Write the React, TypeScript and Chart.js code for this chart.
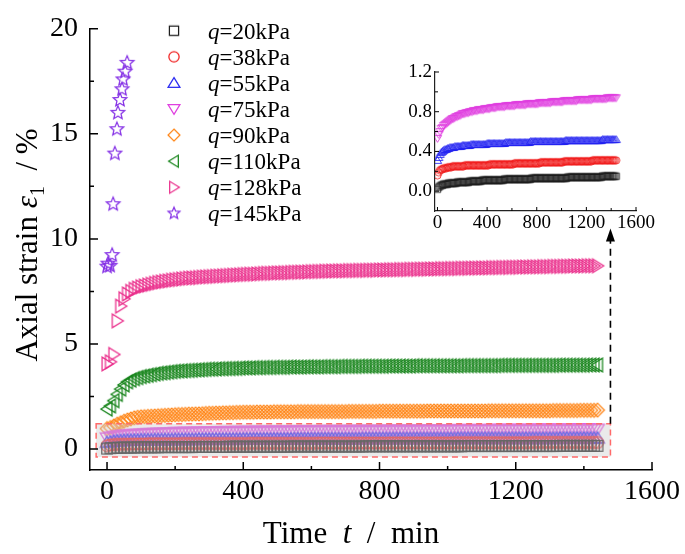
import { useEffect, useRef } from 'react';
import { Chart, registerables } from 'chart.js';

Chart.register(...registerables);

const FONT = '"Liberation Serif", "Times New Roman", serif';

// ---------------- data ----------------
const TIME = [
  0, 10, 20, 30, 40, 50, 60, 70, 80, 90,
  100, 110, 120, 130, 140, 150, 160, 170, 180, 190,
  200, 210, 220, 230, 240, 250, 260, 270, 280, 290,
  300, 310, 320, 330, 340, 350, 360, 370, 380, 390,
  400, 410, 420, 430, 440, 450, 460, 470, 480, 490,
  500, 510, 520, 530, 540, 550, 560, 570, 580, 590,
  600, 610, 620, 630, 640, 650, 660, 670, 680, 690,
  700, 710, 720, 730, 740, 750, 760, 770, 780, 790,
  800, 810, 820, 830, 840, 850, 860, 870, 880, 890,
  900, 910, 920, 930, 940, 950, 960, 970, 980, 990,
  1000, 1010, 1020, 1030, 1040, 1050, 1060, 1070, 1080, 1090,
  1100, 1110, 1120, 1130, 1140, 1150, 1160, 1170, 1180, 1190,
  1200, 1210, 1220, 1230, 1240, 1250, 1260, 1270, 1280, 1290,
  1300, 1310, 1320, 1330, 1340, 1350, 1360, 1370, 1380, 1390,
  1400, 1410, 1420, 1430, 1440,
];

const STRAIN_Q20 = [
  0.02, 0.04, 0.05, 0.06, 0.06, 0.07, 0.07, 0.07, 0.07, 0.08,
  0.08, 0.08, 0.08, 0.08, 0.08, 0.08, 0.09, 0.09, 0.09, 0.09,
  0.09, 0.09, 0.09, 0.09, 0.09, 0.09, 0.10, 0.10, 0.10, 0.10,
  0.10, 0.10, 0.10, 0.10, 0.10, 0.10, 0.11, 0.11, 0.11, 0.11,
  0.11, 0.11, 0.11, 0.11, 0.11, 0.11, 0.11, 0.11, 0.11, 0.11,
  0.11, 0.11, 0.11, 0.11, 0.12, 0.12, 0.12, 0.12, 0.12, 0.12,
  0.12, 0.12, 0.12, 0.12, 0.12, 0.12, 0.12, 0.12, 0.12, 0.12,
  0.12, 0.12, 0.12, 0.12, 0.12, 0.12, 0.13, 0.13, 0.13, 0.13,
  0.13, 0.13, 0.13, 0.13, 0.13, 0.13, 0.13, 0.13, 0.13, 0.13,
  0.13, 0.13, 0.13, 0.13, 0.13, 0.13, 0.13, 0.13, 0.13, 0.13,
  0.13, 0.13, 0.13, 0.13, 0.13, 0.14, 0.14, 0.14, 0.14, 0.14,
  0.14, 0.14, 0.14, 0.14, 0.14, 0.14, 0.14, 0.14, 0.14, 0.14,
  0.14, 0.14, 0.14, 0.14, 0.14, 0.14, 0.14, 0.14, 0.14, 0.14,
  0.14, 0.14, 0.14, 0.15, 0.15, 0.15, 0.15, 0.15, 0.15, 0.15,
  0.15, 0.15, 0.15, 0.15, 0.15,
];

const STRAIN_Q38 = [
  0.16, 0.19, 0.21, 0.22, 0.22, 0.23, 0.23, 0.23, 0.24, 0.24,
  0.24, 0.24, 0.25, 0.25, 0.25, 0.25, 0.25, 0.25, 0.25, 0.25,
  0.25, 0.25, 0.26, 0.26, 0.26, 0.26, 0.26, 0.26, 0.26, 0.26,
  0.26, 0.26, 0.26, 0.26, 0.26, 0.26, 0.26, 0.26, 0.26, 0.26,
  0.26, 0.26, 0.27, 0.27, 0.27, 0.27, 0.27, 0.27, 0.27, 0.27,
  0.27, 0.27, 0.27, 0.27, 0.27, 0.27, 0.27, 0.27, 0.27, 0.27,
  0.27, 0.27, 0.28, 0.28, 0.28, 0.28, 0.28, 0.28, 0.28, 0.28,
  0.28, 0.28, 0.28, 0.28, 0.28, 0.28, 0.28, 0.28, 0.28, 0.28,
  0.28, 0.28, 0.28, 0.29, 0.29, 0.29, 0.29, 0.29, 0.29, 0.29,
  0.29, 0.29, 0.29, 0.29, 0.29, 0.29, 0.29, 0.29, 0.29, 0.29,
  0.29, 0.29, 0.30, 0.30, 0.30, 0.30, 0.30, 0.30, 0.30, 0.30,
  0.30, 0.30, 0.30, 0.30, 0.30, 0.30, 0.30, 0.30, 0.30, 0.30,
  0.30, 0.30, 0.30, 0.30, 0.30, 0.31, 0.31, 0.31, 0.31, 0.31,
  0.31, 0.31, 0.31, 0.31, 0.31, 0.31, 0.31, 0.31, 0.31, 0.31,
  0.31, 0.31, 0.31, 0.31, 0.31,
];

const STRAIN_Q55 = [
  0.31, 0.34, 0.37, 0.39, 0.40, 0.41, 0.42, 0.42, 0.43, 0.43,
  0.44, 0.44, 0.44, 0.44, 0.45, 0.45, 0.45, 0.45, 0.45, 0.45,
  0.46, 0.46, 0.46, 0.46, 0.46, 0.46, 0.46, 0.47, 0.47, 0.47,
  0.47, 0.47, 0.47, 0.47, 0.47, 0.47, 0.47, 0.47, 0.47, 0.47,
  0.48, 0.48, 0.48, 0.48, 0.48, 0.48, 0.48, 0.48, 0.48, 0.48,
  0.48, 0.48, 0.48, 0.48, 0.48, 0.49, 0.49, 0.49, 0.49, 0.49,
  0.49, 0.49, 0.49, 0.49, 0.49, 0.49, 0.49, 0.49, 0.49, 0.49,
  0.49, 0.49, 0.49, 0.49, 0.49, 0.50, 0.50, 0.50, 0.50, 0.50,
  0.50, 0.50, 0.50, 0.50, 0.50, 0.50, 0.50, 0.50, 0.50, 0.50,
  0.50, 0.50, 0.50, 0.50, 0.50, 0.50, 0.50, 0.50, 0.50, 0.50,
  0.50, 0.50, 0.50, 0.51, 0.51, 0.51, 0.51, 0.51, 0.51, 0.51,
  0.51, 0.51, 0.51, 0.51, 0.51, 0.51, 0.51, 0.51, 0.51, 0.51,
  0.51, 0.51, 0.51, 0.51, 0.51, 0.51, 0.51, 0.51, 0.51, 0.51,
  0.51, 0.51, 0.51, 0.52, 0.52, 0.52, 0.52, 0.52, 0.52, 0.52,
  0.52, 0.52, 0.52, 0.52, 0.52,
];

const STRAIN_Q75 = [
  0.53, 0.57, 0.60, 0.63, 0.64, 0.66, 0.67, 0.68, 0.69, 0.70,
  0.71, 0.72, 0.73, 0.73, 0.74, 0.75, 0.75, 0.76, 0.76, 0.77,
  0.78, 0.78, 0.78, 0.79, 0.79, 0.79, 0.80, 0.80, 0.80, 0.81,
  0.81, 0.81, 0.81, 0.82, 0.82, 0.82, 0.82, 0.82, 0.83, 0.83,
  0.83, 0.83, 0.83, 0.84, 0.84, 0.84, 0.84, 0.84, 0.85, 0.85,
  0.85, 0.85, 0.85, 0.85, 0.85, 0.86, 0.86, 0.86, 0.86, 0.86,
  0.86, 0.86, 0.86, 0.87, 0.87, 0.87, 0.87, 0.87, 0.87, 0.87,
  0.87, 0.87, 0.88, 0.88, 0.88, 0.88, 0.88, 0.88, 0.88, 0.88,
  0.88, 0.88, 0.89, 0.89, 0.89, 0.89, 0.89, 0.89, 0.89, 0.89,
  0.89, 0.89, 0.90, 0.90, 0.90, 0.90, 0.90, 0.90, 0.90, 0.90,
  0.90, 0.90, 0.91, 0.91, 0.91, 0.91, 0.91, 0.91, 0.91, 0.91,
  0.91, 0.91, 0.91, 0.92, 0.92, 0.92, 0.92, 0.92, 0.92, 0.92,
  0.92, 0.92, 0.92, 0.92, 0.92, 0.93, 0.93, 0.93, 0.93, 0.93,
  0.93, 0.93, 0.93, 0.93, 0.93, 0.93, 0.93, 0.94, 0.94, 0.94,
  0.94, 0.94, 0.94, 0.94, 0.94,
];

const STRAIN_Q90 = [
  0.97, 1.02, 1.10, 1.18, 1.25, 1.32, 1.38, 1.43, 1.48, 1.51,
  1.53, 1.54, 1.55, 1.56, 1.57, 1.58, 1.59, 1.60, 1.61, 1.62,
  1.63, 1.64, 1.64, 1.65, 1.66, 1.66, 1.67, 1.67, 1.68, 1.69,
  1.70, 1.70, 1.71, 1.71, 1.72, 1.72, 1.73, 1.73, 1.74, 1.74,
  1.75, 1.75, 1.75, 1.75, 1.76, 1.76, 1.76, 1.76, 1.76, 1.77,
  1.77, 1.77, 1.77, 1.77, 1.77, 1.77, 1.78, 1.78, 1.78, 1.78,
  1.78, 1.78, 1.78, 1.78, 1.78, 1.78, 1.78, 1.78, 1.78, 1.78,
  1.78, 1.79, 1.79, 1.79, 1.79, 1.79, 1.79, 1.79, 1.79, 1.79,
  1.80, 1.80, 1.80, 1.80, 1.80, 1.80, 1.80, 1.80, 1.80, 1.80,
  1.80, 1.80, 1.80, 1.80, 1.81, 1.81, 1.81, 1.81, 1.81, 1.81,
  1.81, 1.81, 1.81, 1.81, 1.81, 1.81, 1.81, 1.81, 1.81, 1.81,
  1.81, 1.81, 1.82, 1.82, 1.82, 1.82, 1.82, 1.82, 1.82, 1.82,
  1.82, 1.82, 1.82, 1.82, 1.82, 1.82, 1.82, 1.82, 1.82, 1.82,
  1.82, 1.83, 1.83, 1.83, 1.83, 1.83, 1.83, 1.83, 1.83, 1.84,
  1.84, 1.84, 1.84, 1.84, 1.85,
];

const STRAIN_Q110 = [
  1.90, 2.05, 2.30, 2.60, 2.85, 3.05, 3.20, 3.28, 3.35, 3.40,
  3.45, 3.48, 3.51, 3.54, 3.57, 3.60, 3.62, 3.64, 3.66, 3.68,
  3.70, 3.71, 3.72, 3.73, 3.74, 3.75, 3.76, 3.77, 3.78, 3.79,
  3.80, 3.80, 3.81, 3.82, 3.82, 3.83, 3.83, 3.84, 3.84, 3.85,
  3.86, 3.86, 3.86, 3.87, 3.87, 3.87, 3.88, 3.88, 3.88, 3.89,
  3.89, 3.89, 3.89, 3.90, 3.90, 3.90, 3.90, 3.90, 3.91, 3.91,
  3.91, 3.91, 3.91, 3.92, 3.92, 3.92, 3.92, 3.92, 3.93, 3.93,
  3.93, 3.93, 3.93, 3.93, 3.94, 3.94, 3.94, 3.94, 3.94, 3.94,
  3.94, 3.94, 3.95, 3.95, 3.95, 3.95, 3.95, 3.95, 3.95, 3.95,
  3.96, 3.96, 3.96, 3.96, 3.96, 3.96, 3.96, 3.96, 3.96, 3.96,
  3.96, 3.96, 3.96, 3.96, 3.97, 3.97, 3.97, 3.97, 3.97, 3.97,
  3.97, 3.97, 3.97, 3.97, 3.97, 3.98, 3.98, 3.98, 3.98, 3.98,
  3.98, 3.98, 3.98, 3.98, 3.98, 3.98, 3.98, 3.98, 3.98, 3.98,
  3.98, 3.98, 3.99, 3.99, 3.99, 3.99, 3.99, 3.99, 3.99, 3.99,
  3.99, 4.00, 4.00, 4.00, 4.00,
];

const STRAIN_Q128 = [
  4.05, 4.15, 4.50, 6.10, 6.80, 7.15, 7.38, 7.50, 7.60, 7.66,
  7.72, 7.76, 7.80, 7.84, 7.88, 7.92, 7.95, 7.98, 8.00, 8.03,
  8.05, 8.07, 8.09, 8.11, 8.13, 8.14, 8.15, 8.16, 8.18, 8.19,
  8.20, 8.21, 8.22, 8.23, 8.24, 8.25, 8.26, 8.27, 8.28, 8.29,
  8.30, 8.31, 8.32, 8.32, 8.33, 8.34, 8.35, 8.36, 8.36, 8.37,
  8.38, 8.38, 8.39, 8.39, 8.40, 8.41, 8.41, 8.42, 8.42, 8.43,
  8.44, 8.44, 8.45, 8.45, 8.46, 8.46, 8.47, 8.47, 8.48, 8.48,
  8.48, 8.49, 8.49, 8.49, 8.50, 8.50, 8.50, 8.51, 8.51, 8.51,
  8.52, 8.52, 8.52, 8.53, 8.53, 8.53, 8.54, 8.54, 8.54, 8.55,
  8.55, 8.55, 8.56, 8.56, 8.56, 8.57, 8.57, 8.57, 8.58, 8.58,
  8.58, 8.59, 8.59, 8.59, 8.60, 8.60, 8.60, 8.61, 8.61, 8.61,
  8.62, 8.62, 8.62, 8.63, 8.63, 8.63, 8.64, 8.64, 8.64, 8.65,
  8.65, 8.65, 8.66, 8.66, 8.66, 8.67, 8.67, 8.67, 8.68, 8.68,
  8.68, 8.69, 8.69, 8.69, 8.70, 8.70, 8.70, 8.71, 8.71, 8.71,
  8.71, 8.72, 8.72, 8.72, 8.72,
];

const TIME_Q145 = [0, 3, 9, 15, 18, 23, 29, 32, 38, 44, 47, 53, 59];
const STRAIN_Q145 = [8.68, 8.82, 8.72, 9.23, 11.65, 14.06, 15.22, 16.0, 16.61, 17.12, 17.59, 17.96, 18.38];

const LOADS = [20, 38, 55, 75, 90, 110, 128, 145];
const SERIES_TIME = [TIME, TIME, TIME, TIME, TIME, TIME, TIME, TIME_Q145];
const SERIES_STRAIN = [STRAIN_Q20, STRAIN_Q38, STRAIN_Q55, STRAIN_Q75, STRAIN_Q90, STRAIN_Q110, STRAIN_Q128, STRAIN_Q145];

const X_TICKS = [0, 400, 800, 1200, 1600];
const X_MINOR = [200, 600, 1000, 1400];
const Y_TICKS = [0, 5, 10, 15, 20];
const Y_MINOR = [2.5, 7.5, 12.5, 17.5];

const INSET_X_TICKS = [0, 400, 800, 1200, 1600];
const INSET_X_MINOR = [200, 600, 1000, 1400];
const INSET_Y_TICKS = [0, 0.4, 0.8, 1.2];
const INSET_Y_MINOR = [0.2, 0.6, 1.0];
const INSET_SERIES = 4;

// zoom box & arrow (data units of the main chart)
const BOX_T = [-32, 1478];
const BOX_V = [-0.38, 1.2];
const ARROW_T = 1478;
const ARROW_V = [1.2, 10.5];

// ---------------- styles ----------------
const SHAPES = ['square', 'circle', 'up', 'down', 'diamond', 'left', 'right', 'star'];
const COLORS = ['#1e1e1e', '#f01e1e', '#2626f2', '#e040e0', '#ff8414', '#16841a', '#ea2f8c', '#8632e6'];

function makeMarker(shape: string, color: string, r: number, lw: number) {
  const size = Math.ceil(r * 2.4 + lw * 2 + 2);
  const c = document.createElement('canvas');
  c.width = size;
  c.height = size;
  const g = c.getContext('2d')!;
  const m = size / 2;
  g.strokeStyle = color;
  g.lineWidth = lw;
  g.lineJoin = 'miter';
  g.beginPath();
  switch (shape) {
    case 'square': {
      const h = r * 0.85;
      g.rect(m - h, m - h, 2 * h, 2 * h);
      break;
    }
    case 'circle':
      g.arc(m, m, r * 0.95, 0, Math.PI * 2);
      break;
    case 'up':
      g.moveTo(m, m - r);
      g.lineTo(m + r * 1.1, m + r * 0.8);
      g.lineTo(m - r * 1.1, m + r * 0.8);
      g.closePath();
      break;
    case 'down':
      g.moveTo(m, m + r);
      g.lineTo(m + r * 1.1, m - r * 0.8);
      g.lineTo(m - r * 1.1, m - r * 0.8);
      g.closePath();
      break;
    case 'diamond':
      g.moveTo(m, m - r * 1.1);
      g.lineTo(m + r * 1.1, m);
      g.lineTo(m, m + r * 1.1);
      g.lineTo(m - r * 1.1, m);
      g.closePath();
      break;
    case 'left':
      g.moveTo(m - r, m);
      g.lineTo(m + r * 0.8, m - r * 1.1);
      g.lineTo(m + r * 0.8, m + r * 1.1);
      g.closePath();
      break;
    case 'right':
      g.moveTo(m + r, m);
      g.lineTo(m - r * 0.8, m - r * 1.1);
      g.lineTo(m - r * 0.8, m + r * 1.1);
      g.closePath();
      break;
    case 'star': {
      const ro = r * 1.15;
      const ri = ro * 0.45;
      for (let k = 0; k < 10; k++) {
        const a = -Math.PI / 2 + (k * Math.PI) / 5;
        const rr = k % 2 === 0 ? ro : ri;
        const px = m + rr * Math.cos(a);
        const py = m + rr * Math.sin(a);
        if (k === 0) g.moveTo(px, py);
        else g.lineTo(px, py);
      }
      g.closePath();
      break;
    }
  }
  g.stroke();
  return c;
}

type Run = { t: string; italic?: boolean; sub?: boolean };

function drawRuns(ctx: CanvasRenderingContext2D, runs: Run[], size: number, cx: number, baseY: number) {
  const fontOf = (r: Run) => `${r.italic ? 'italic ' : ''}${r.sub ? Math.round(size * 0.65) : size}px ${FONT}`;
  let total = 0;
  for (const r of runs) {
    ctx.font = fontOf(r);
    total += ctx.measureText(r.t).width;
  }
  let x = cx - total / 2;
  ctx.textAlign = 'left';
  ctx.textBaseline = 'alphabetic';
  for (const r of runs) {
    ctx.font = fontOf(r);
    ctx.fillText(r.t, x, baseY + (r.sub ? size * 0.22 : 0));
    x += ctx.measureText(r.t).width;
  }
}

function drawInwardTicks(
  chart: any,
  xMaj: number[], xMin: number[], yMaj: number[], yMin: number[],
  lenMaj: number, lenMin: number, lw: number,
) {
  const { ctx, chartArea, scales } = chart;
  const xs = scales.x;
  const ys = scales.y;
  ctx.save();
  ctx.strokeStyle = '#000';
  ctx.lineWidth = lw;
  ctx.beginPath();
  const b = chartArea.bottom;
  const l = chartArea.left;
  for (const v of xMaj) {
    const p = xs.getPixelForValue(v);
    ctx.moveTo(p, b);
    ctx.lineTo(p, b - lenMaj);
  }
  for (const v of xMin) {
    const p = xs.getPixelForValue(v);
    ctx.moveTo(p, b);
    ctx.lineTo(p, b - lenMin);
  }
  for (const v of yMaj) {
    const p = ys.getPixelForValue(v);
    ctx.moveTo(l, p);
    ctx.lineTo(l + lenMaj, p);
  }
  for (const v of yMin) {
    const p = ys.getPixelForValue(v);
    ctx.moveTo(l, p);
    ctx.lineTo(l + lenMin, p);
  }
  ctx.stroke();
  ctx.restore();
}

export default function App() {
  const mainRef = useRef<HTMLCanvasElement>(null);
  const insetRef = useRef<HTMLCanvasElement>(null);

  useEffect(() => {
    const mainMarkers = SHAPES.map((s, i) => makeMarker(s, COLORS[i], 6.2, 1.25));
    const legendMarkers = SHAPES.map((s, i) => makeMarker(s, COLORS[i], 5.4, 1.25));
    const insetMarkers = SHAPES.map((s, i) => makeMarker(s, COLORS[i], 3.8, 0.9));

    const mainDatasets = SERIES_STRAIN.map((vals, i) => ({
      label: `q=${LOADS[i]}kPa`,
      data: vals.map((v, k) => ({ x: SERIES_TIME[i][k], y: v })),
      pointStyle: mainMarkers[i] as any,
      pointRadius: 6,
      pointHoverRadius: 6,
      showLine: false,
      borderColor: COLORS[i],
      backgroundColor: 'rgba(0,0,0,0)',
    }));

    const mainDecor = {
      id: 'mainDecor',
      afterDatasetsDraw(chart: any) {
        const { ctx, scales } = chart;
        const xs = scales.x;
        const ys = scales.y;
        const x0 = xs.getPixelForValue(BOX_T[0]);
        const x1 = xs.getPixelForValue(BOX_T[1]);
        const y0 = ys.getPixelForValue(BOX_V[1]);
        const y1 = ys.getPixelForValue(BOX_V[0]);
        ctx.save();
        ctx.fillStyle = 'rgba(205,205,205,0.42)';
        ctx.fillRect(x0, y0, x1 - x0, y1 - y0);
        ctx.strokeStyle = '#ff6a6a';
        ctx.lineWidth = 1.5;
        ctx.setLineDash([6, 4]);
        ctx.strokeRect(x0, y0, x1 - x0, y1 - y0);
        // arrow
        const ax = xs.getPixelForValue(ARROW_T);
        const ay0 = ys.getPixelForValue(ARROW_V[0]);
        const ay1 = ys.getPixelForValue(ARROW_V[1]);
        ctx.strokeStyle = '#000';
        ctx.lineWidth = 1.6;
        ctx.setLineDash([7, 5]);
        ctx.beginPath();
        ctx.moveTo(ax, ay0);
        ctx.lineTo(ax, ay1 + 12);
        ctx.stroke();
        ctx.setLineDash([]);
        ctx.fillStyle = '#000';
        ctx.beginPath();
        ctx.moveTo(ax, ay1);
        ctx.lineTo(ax + 4.5, ay1 + 13);
        ctx.lineTo(ax - 4.5, ay1 + 13);
        ctx.closePath();
        ctx.fill();
        ctx.restore();
      },
      afterDraw(chart: any) {
        const { ctx } = chart;
        drawInwardTicks(chart, X_TICKS, X_MINOR, Y_TICKS, Y_MINOR, 8, 4, 1.5);
        ctx.save();
        ctx.fillStyle = '#000';
        // legend
        for (let i = 0; i < LOADS.length; i++) {
          const cy = 30.7 + i * 26.1;
          const mk = legendMarkers[i];
          ctx.drawImage(mk, 174 - mk.width / 2, cy - mk.height / 2);
          ctx.textAlign = 'left';
          ctx.textBaseline = 'alphabetic';
          ctx.font = `italic 23px ${FONT}`;
          ctx.fillText('q', 208, cy + 8);
          const w = ctx.measureText('q').width;
          ctx.font = `23px ${FONT}`;
          ctx.fillText(`=${LOADS[i]}kPa`, 208 + w, cy + 8);
        }
        // x title
        drawRuns(ctx, [{ t: 'Time  ' }, { t: 't', italic: true }, { t: '  /  min' }], 31, 351, 543);
        // y title
        ctx.translate(37, 245);
        ctx.rotate(-Math.PI / 2);
        drawRuns(
          ctx,
          [{ t: 'Axial strain ' }, { t: 'ε', italic: true }, { t: '1', sub: true }, { t: '  / %' }],
          31, 0, 0,
        );
        ctx.restore();
      },
    };

    const main = new Chart(mainRef.current!, {
      type: 'scatter',
      data: { datasets: mainDatasets as any },
      options: {
        responsive: false,
        animation: false,
        events: [],
        layout: { padding: { top: 18, right: 33, left: 0, bottom: 0 } },
        plugins: { legend: { display: false }, tooltip: { enabled: false } },
        scales: {
          x: {
            type: 'linear',
            min: -50,
            max: 1600,
            afterBuildTicks: (s: any) => { s.ticks = X_TICKS.map((value) => ({ value })); },
            afterFit: (s: any) => { s.height = 84; },
            grid: { display: false, drawTicks: false },
            border: { display: true, color: '#000', width: 1.5 },
            ticks: {
              font: { family: FONT, size: 28 }, color: '#000', padding: 5, maxRotation: 0, autoSkip: false,
              callback: (v: any) => String(v),
            },
          },
          y: {
            type: 'linear',
            min: -1,
            max: 20,
            afterBuildTicks: (s: any) => { s.ticks = Y_TICKS.map((value) => ({ value })); },
            afterFit: (s: any) => { s.width = 90; },
            grid: { display: false, drawTicks: false },
            border: { display: true, color: '#000', width: 1.5 },
            ticks: {
              font: { family: FONT, size: 28 }, color: '#000', padding: 12, autoSkip: false,
              callback: (v: any) => String(v),
            },
          },
        },
      },
      plugins: [mainDecor],
    });

    const insetDatasets = SERIES_STRAIN.slice(0, INSET_SERIES).map((vals, i) => ({
      label: `q=${LOADS[i]}kPa`,
      data: vals.map((v, k) => ({ x: SERIES_TIME[i][k], y: v })),
      pointStyle: insetMarkers[i] as any,
      pointRadius: 4,
      pointHoverRadius: 4,
      showLine: false,
      borderColor: COLORS[i],
      backgroundColor: 'rgba(0,0,0,0)',
    }));

    const insetDecor = {
      id: 'insetDecor',
      afterDraw(chart: any) {
        drawInwardTicks(chart, INSET_X_TICKS, INSET_X_MINOR, INSET_Y_TICKS, INSET_Y_MINOR, 4, 3, 1);
      },
    };

    const inset = new Chart(insetRef.current!, {
      type: 'scatter',
      data: { datasets: insetDatasets as any },
      options: {
        responsive: false,
        animation: false,
        events: [],
        layout: { padding: { top: 17, right: 29, left: 0, bottom: 0 } },
        plugins: { legend: { display: false }, tooltip: { enabled: false } },
        scales: {
          x: {
            type: 'linear',
            min: -20,
            max: 1600,
            afterBuildTicks: (s: any) => { s.ticks = INSET_X_TICKS.map((value) => ({ value })); },
            afterFit: (s: any) => { s.height = 34; },
            grid: { display: false, drawTicks: false },
            border: { display: true, color: '#222', width: 1.2 },
            ticks: {
              font: { family: FONT, size: 19 }, color: '#000', padding: 1, maxRotation: 0, autoSkip: false,
              callback: (v: any) => String(v),
            },
          },
          y: {
            type: 'linear',
            min: -0.2,
            max: 1.2,
            afterBuildTicks: (s: any) => { s.ticks = INSET_Y_TICKS.map((value) => ({ value })); },
            afterFit: (s: any) => { s.width = 40; },
            grid: { display: false, drawTicks: false },
            border: { display: true, color: '#222', width: 1.2 },
            ticks: {
              font: { family: FONT, size: 19 },
              color: '#000',
              padding: 3,
              autoSkip: false,
              callback: (v: any) => Number(v).toFixed(1),
            },
          },
        },
      },
      plugins: [insetDecor],
    });

    return () => {
      main.destroy();
      inset.destroy();
    };
  }, []);

  return (
    <div style={{ position: 'absolute', left: 0, top: 0, width: 685, height: 554, background: '#fff' }}>
      <canvas ref={mainRef} width={685} height={554} style={{ position: 'absolute', left: 0, top: 0, width: 685, height: 554 }} />
      <canvas ref={insetRef} width={270} height={190} style={{ position: 'absolute', left: 395, top: 55, width: 270, height: 190 }} />
    </div>
  );
}
